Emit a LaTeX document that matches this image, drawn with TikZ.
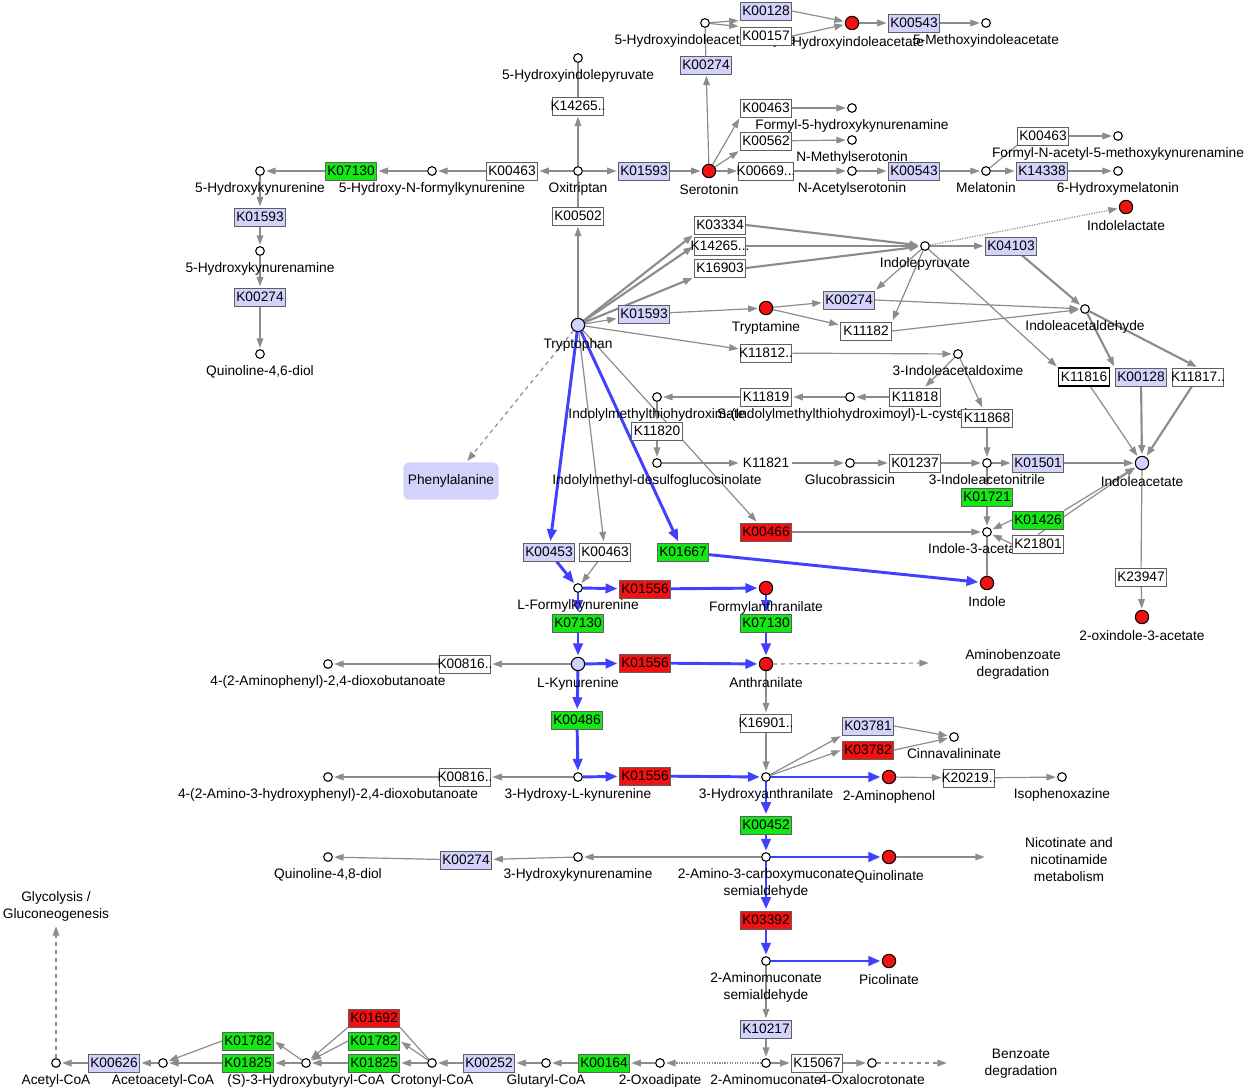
\documentclass[tikz,border=0pt]{standalone}
\usepackage{fontspec}
\setmainfont{Liberation Sans}
\usepackage{xcolor}
\usetikzlibrary{arrows.meta, shapes.misc}
\pgfdeclarelayer{fond}
\pgfsetlayers{fond,main}
\definecolor{gris}{RGB}{140,140,140}
\definecolor{bord}{RGB}{95,95,95}
\definecolor{bleu}{RGB}{64,64,255}
\definecolor{lavande}{RGB}{210,210,252}
\definecolor{vert}{RGB}{20,232,20}
\definecolor{rouge}{RGB}{242,16,16}
\tikzstyle{kbox} = [rectangle, draw = bord, fill = white, line width = 0.7pt, minimum width = 38.5pt, minimum height = 13.5pt, inner sep = 1pt]
\tikzstyle{kbleu} = [kbox, fill = lavande]
\tikzstyle{kvert} = [kbox, fill = vert]
\tikzstyle{krouge} = [kbox, fill = rouge]
\tikzstyle{cpd} = [circle, draw = black, fill = white, line width = 0.8pt, minimum size = 6.5pt, inner sep = 0pt]
\tikzstyle{cpdr} = [cpd, fill = rouge, minimum size = 10pt]
\tikzstyle{cpdl} = [cpd, fill = lavande, minimum size = 10pt]
\tikzstyle{lbl} = [inner sep = 0.5pt, align = center]
\tikzstyle{arr} = [-{Triangle[length = 7pt, width = 5pt]}, draw = gris, line width = 0.9pt, shorten > = 1pt]
\tikzstyle{tarr} = [arr, line width = 1.6pt]
\tikzstyle{ln} = [draw = gris, line width = 0.9pt]
\tikzstyle{barr} = [-{Triangle[length = 9pt, width = 7pt]}, draw = bleu, line width = 2.2pt, shorten > = 1pt]
\tikzstyle{darr} = [arr, dashed]
\tikzstyle{dotarr} = [arr, densely dotted]
\newcommand{\kk}[1]{\makebox[0pt]{#1}}

\begin{document}
\begin{tikzpicture}[x = 0.75pt, y = -0.75pt, font = \fontsize{10.3}{12.8}\selectfont, label distance = 4.3pt]
    % Cadre
    \useasboundingbox (0, 0) rectangle (1247, 1089);

    % Composes, haut
    \node[cpd, label = {[lbl]below:5-Hydroxyindoleacetaldehyde}] (hial) at (705, 23) {};
    \node[cpdr, label = {[lbl]below:5-Hydroxyindoleacetate}] (hiaa) at (852, 23) {};
    \node[cpd, label = {[lbl]below:5-Methoxyindoleacetate}] (miaa) at (986, 23) {};
    \node[cpd, label = {[lbl]below:5-Hydroxyindolepyruvate}] (hip) at (578, 58) {};
    \node[cpd, label = {[lbl]below:Formyl-5-hydroxykynurenamine}] (f5hk) at (852, 108) {};
    \node[cpd, label = {[lbl]below:N-Methylserotonin}] (nms) at (852, 140) {};
    \node[cpd, label = {[lbl]below:N-Acetylserotonin}] (nas) at (852, 171) {};
    \node[cpdr, label = {[lbl]below:Serotonin}] (ser) at (709, 171) {};
    \node[cpd, label = {[lbl]below:Oxitriptan}] (oxi) at (578, 171) {};
    \node[cpd, label = {[lbl]below:5-Hydroxy-N-formylkynurenine}] (hnfk) at (432, 171) {};
    \node[cpd, label = {[lbl]below:5-Hydroxykynurenine}] (hk) at (260, 171) {};
    \node[cpd, label = {[lbl]below:5-Hydroxykynurenamine}] (hka) at (260, 251) {};
    \node[cpd, label = {[lbl]below:Quinoline-4,6-diol}] (q46) at (260, 354) {};
    \node[cpd, label = {[lbl]below:Melatonin}] (mel) at (986, 171) {};
    \node[cpd, label = {[lbl]below:Formyl-N-acetyl-5-methoxykynurenamine}] (fnam) at (1118, 136) {};
    \node[cpd, label = {[lbl]below:6-Hydroxymelatonin}] (hmel) at (1118, 171) {};
    \node[cpdr, label = {[lbl]below:Indolelactate}] (ilac) at (1126, 207) {};
    \node[cpd, label = {[lbl]below:Indolepyruvate}] (ipa) at (925, 246) {};
    \node[cpdl, label = {[lbl]below:Tryptophan}] (trp) at (578, 325) {};
    \node[cpdr, label = {[lbl]below:Tryptamine}] (tam) at (766, 308) {};
    \node[cpd, label = {[lbl]below:Indoleacetaldehyde}] (iaald) at (1085, 309) {};
    \node[cpd, label = {[lbl]below:3-Indoleacetaldoxime}] (iaox) at (958, 354) {};
    \node[cpd, label = {[lbl]below:S-(Indolylmethylthiohydroximoyl)-L-cysteine}] (simc) at (850, 397) {};
    \node[cpd, label = {[lbl]below:Indolylmethylthiohydroximate}] (imth) at (657, 397) {};
    \node[cpd, label = {[lbl]below:Indolylmethyl-desulfoglucosinolate}] (imdg) at (657, 463) {};
    \node[cpd, label = {[lbl]below:Glucobrassicin}] (gbr) at (850, 463) {};
    \node[cpd, label = {[lbl]below:3-Indoleacetonitrile}] (ian) at (987, 463) {};
    \node[cpdl, label = {[lbl]below:Indoleacetate}] (iaa) at (1142, 463) {};
    \node[cpd, label = {[lbl]below:Indole-3-acetamide}] (iam) at (987, 532) {};
    \node[cpdr, label = {[lbl]below:Indole}] (ind) at (987, 583) {};
    \node[cpdr, label = {[lbl]below:2-oxindole-3-acetate}] (oxia) at (1142, 617) {};
    % Composes, kynurenine
    \node[cpd, label = {[lbl]below:L-Formylkynurenine}] (lfk) at (578, 588) {};
    \node[cpdr, label = {[lbl]below:Formylanthranilate}] (fant) at (766, 588) {};
    \node[cpdl, label = {[lbl]below:L-Kynurenine}] (lkyn) at (578, 664) {};
    \node[cpdr, label = {[lbl]below:Anthranilate}] (ant) at (766, 664) {};
    \node[cpd, label = {[lbl]below:4-(2-Aminophenyl)-2,4-dioxobutanoate}] (apdb) at (328, 664) {};
    \node[cpd, label = {[lbl]below:3-Hydroxy-L-kynurenine}] (hkyn) at (578, 777) {};
    \node[cpd, label = {[lbl]below:4-(2-Amino-3-hydroxyphenyl)-2,4-dioxobutanoate}] (ahdb) at (328, 777) {};
    \node[cpd, label = {[lbl]below:3-Hydroxyanthranilate}] (haa) at (766, 777) {};
    \node[cpd, label = {[lbl]below:Cinnavalininate}] (cinn) at (954, 737) {};
    \node[cpdr, label = {[lbl]below:2-Aminophenol}] (amph) at (889, 777) {};
    \node[cpd, label = {[lbl]below:Isophenoxazine}] (isop) at (1062, 777) {};
    \node[cpd, label = {[lbl]below:2-Amino-3-carboxymuconate\\semialdehyde}] (acms) at (766, 857) {};
    \node[cpdr, label = {[lbl]below:Quinolinate}] (quin) at (889, 857) {};
    \node[cpd, label = {[lbl]below:3-Hydroxykynurenamine}] (hkam) at (578, 857) {};
    \node[cpd, label = {[lbl]below:Quinoline-4,8-diol}] (q48) at (328, 857) {};
    \node[cpd, label = {[lbl]below:2-Aminomuconate\\semialdehyde}] (ams) at (766, 961) {};
    \node[cpdr, label = {[lbl]below:Picolinate}] (pic) at (889, 961) {};
    % Composes, bas
    \node[cpd, label = {[lbl]below:2-Aminomuconate}] (amu) at (766, 1063) {};
    \node[cpd, label = {[lbl]below:4-Oxalocrotonate}] (oxc) at (872, 1063) {};
    \node[cpd, label = {[lbl]below:2-Oxoadipate}] (oxad) at (660, 1063) {};
    \node[cpd, label = {[lbl]below:Glutaryl-CoA}] (glu) at (546, 1063) {};
    \node[cpd, label = {[lbl]below:Crotonyl-CoA}] (cro) at (432, 1063) {};
    \node[cpd, label = {[lbl]below:(S)-3-Hydroxybutyryl-CoA}] (hb) at (306, 1063) {};
    \node[cpd, label = {[lbl]below:Acetoacetyl-CoA}] (aac) at (163, 1063) {};
    \node[cpd, label = {[lbl]below:Acetyl-CoA}] (acc) at (56, 1063) {};

    % Cartes
    \node[rounded rectangle, rounded corners = 4pt, rectangle, fill = lavande, minimum width = 66pt, minimum height = 28pt] (phe) at (451, 481) {Phenylalanine};
    \node[align = center] (mamb) at (1013, 664) {Aminobenzoate\\degradation};
    \node[align = center] (mnic) at (1069, 860) {Nicotinate and\\nicotinamide\\metabolism};
    \node[align = center] (mben) at (1021, 1064) {Benzoate\\degradation};
    \node[align = center] (mgly) at (56, 906) {Glycolysis /\\Gluconeogenesis};
    \coordinate (ambE) at (930, 663);
    \coordinate (nicE) at (986, 857);
    \coordinate (benE) at (948, 1063);
    \coordinate (glyE) at (56, 925);

    % Enzymes, haut
    \node[kbleu] (e128a) at (766, 11) {K00128};
    \node[kbox] (e157) at (766, 36) {K00157};
    \node[kbleu] (e543a) at (914, 23) {K00543};
    \node[kbleu] (e274a) at (706, 65) {K00274};
    \node[kbox] (e265a) at (578, 106) {\kk{K14265..}};
    \node[kbox] (e463a) at (766, 108) {K00463};
    \node[kbox] (e562) at (766, 141) {K00562};
    \node[kbox, minimum width = 41pt] (e669) at (766, 171) {\kk{K00669...}};
    \node[kbleu] (e543b) at (914, 171) {K00543};
    \node[kbox] (e463c) at (1043, 136) {K00463};
    \node[kbleu] (e338) at (1042, 171) {K14338};
    \node[kbleu] (e1593a) at (644, 171) {K01593};
    \node[kbox] (e463b) at (512, 171) {K00463};
    \node[kvert] (e7130a) at (351, 171) {K07130};
    \node[kbleu] (e1593b) at (260, 217) {K01593};
    \node[kbleu] (e274b) at (260, 297) {K00274};
    \node[kbox] (e502) at (578, 216) {K00502};
    % Enzymes, tryptophane
    \node[kbox] (e334) at (720, 225) {K03334};
    \node[kbox] (e265b) at (720, 246) {\kk{K14265...}};
    \node[kbox] (e903) at (720, 268) {K16903};
    \node[kbleu] (e4103) at (1011, 246) {K04103};
    \node[kbleu] (e1593c) at (644, 314) {K01593};
    \node[kbleu] (e274c) at (849, 300) {K00274};
    \node[kbox] (e182) at (866, 331) {K11182};
    \node[kbox] (e812) at (766, 353) {\kk{K11812..}};
    \node[kbox, draw = black, line width = 1pt] (e816a) at (1084, 377) {K11816};
    \node[kbleu] (e128b) at (1141, 377) {K00128};
    \node[kbox] (e817) at (1198, 377) {\kk{K11817..}};
    \node[kbox] (e818) at (915, 397) {K11818};
    \node[kbox] (e819) at (766, 397) {K11819};
    \node[kbox] (e868) at (987, 418) {K11868};
    \node[kbox] (e820) at (657, 431) {K11820};
    \node[inner sep = 2pt] (e821) at (766, 463) {K11821};
    \node[kbox] (e237) at (915, 463) {K01237};
    \node[kbleu] (e501) at (1038, 463) {K01501};
    \node[kvert] (e721) at (987, 497) {K01721};
    \node[kvert] (e426) at (1038, 520) {K01426};
    \node[kbox] (e801) at (1038, 544) {K21801};
    \node[krouge] (e466) at (766, 532) {K00466};
    \node[kbox] (e947) at (1141, 577) {K23947};
    % Enzymes, kynurenine
    \node[kbleu] (e453) at (549, 552) {K00453};
    \node[kbox] (e463d) at (605, 552) {K00463};
    \node[kvert] (e667) at (683, 552) {K01667};
    \node[krouge] (e556a) at (645, 589) {K01556};
    \node[kvert] (e7130b) at (578, 623) {K07130};
    \node[kvert] (e7130c) at (766, 623) {K07130};
    \node[krouge] (e556b) at (645, 663) {K01556};
    \node[kbox] (e816b) at (465, 664) {\kk{K00816..}};
    \node[kvert] (e486) at (577, 720) {K00486};
    \node[kbox] (e816c) at (465, 777) {\kk{K00816..}};
    \node[krouge] (e556c) at (645, 776) {K01556};
    \node[kbox] (e6901) at (766, 723) {\kk{K16901..}};
    \node[kbleu] (e3781) at (868, 726) {K03781};
    \node[krouge] (e3782) at (868, 750) {K03782};
    \node[kbox] (e219) at (969, 778) {\kk{K20219..}};
    \node[kvert] (e452) at (766, 825) {K00452};
    \node[kbleu] (e274d) at (466, 860) {K00274};
    \node[krouge] (e392) at (766, 920) {K03392};
    \node[kbleu] (e217) at (766, 1029) {K10217};
    % Enzymes, bas
    \node[kbox] (e067) at (817, 1063) {K15067};
    \node[kvert] (e164) at (604, 1063) {K00164};
    \node[kbleu] (e252) at (489, 1063) {K00252};
    \node[krouge] (e692) at (374, 1018) {K01692};
    \node[kvert] (e782b) at (374, 1041) {K01782};
    \node[kvert] (e825b) at (374, 1063) {K01825};
    \node[kvert] (e782a) at (248, 1041) {K01782};
    \node[kvert] (e825a) at (248, 1063) {K01825};
    \node[kbleu] (e626) at (114, 1063) {K00626};

    \begin{pgfonlayer}{fond}
    % Serotonine et melatonine
    \draw[arr] (hial) -- (e128a.south west);
    \draw[arr] (hial) -- (e157.north west);
    \draw[arr] (e128a.east) -- (hiaa);
    \draw[arr] (e157.east) -- (hiaa);
    \draw[arr] (hiaa) -- (e543a);
    \draw[arr] (e543a) -- (miaa);
    \draw[arr] (ser) -- (e274a);
    \draw[ln] (e274a) -- (hial);
    \draw[arr] (oxi) -- (e265a);
    \draw[ln] (e265a) -- (hip);
    \draw[arr] (trp) -- (e502);
    \draw[ln] (e502) -- (oxi);
    \draw[arr] (oxi) -- (e463b);
    \draw[arr] (e463b) -- (hnfk);
    \draw[arr] (hnfk) -- (e7130a);
    \draw[arr] (e7130a) -- (hk);
    \draw[arr] (hk) -- (e1593b);
    \draw[arr] (e1593b) -- (hka);
    \draw[arr] (hka) -- (e274b);
    \draw[arr] (e274b) -- (q46);
    \draw[arr] (oxi) -- (e1593a);
    \draw[arr] (e1593a) -- (ser);
    \draw[arr] (ser) -- (e463a.south west);
    \draw[arr] (ser) -- (e562.south west);
    \draw[arr] (ser) -- (e669);
    \draw[arr] (e463a) -- (f5hk);
    \draw[arr] (e562) -- (nms);
    \draw[arr] (e669) -- (nas);
    \draw[arr] (nas) -- (e543b);
    \draw[arr] (e543b) -- (mel);
    \draw[arr] (mel) -- (e338);
    \draw[arr] (e338) -- (hmel);
    \draw[ln] (mel) -- (e463c.south west);
    \draw[arr] (e463c) -- (fnam);
    % Indole-3-acetate
    \draw[tarr] (trp) -- (e334.south west);
    \draw[tarr] (trp) -- (e265b.west);
    \draw[tarr] (trp) -- (e903.south west);
    \draw[tarr] (e334.east) -- (ipa);
    \draw[tarr] (e265b) -- (ipa);
    \draw[tarr] (e903.east) -- (ipa);
    \draw[arr] (trp) -- (e1593c);
    \draw[arr] (e1593c) -- (tam);
    \draw[arr] (tam) -- (e274c);
    \draw[arr] (tam) -- (e182);
    \draw[arr] (ipa) -- (e274c.north east);
    \draw[arr] (ipa) -- (e182.north east);
    \draw[arr] (e274c.east) -- (iaald);
    \draw[arr] (e182.east) -- (iaald);
    \draw[dotarr] (ipa) -- (ilac);
    \draw[arr] (ipa) -- (e4103);
    \draw[tarr] (e4103) -- (iaald);
    \draw[arr] (ipa) -- (e816a.north west);
    \draw[tarr] (iaald) -- (e128b.north west);
    \draw[tarr] (iaald) -- (e817.north);
    \draw[arr] (e816a) -- (iaa);
    \draw[tarr] (e128b) -- (iaa);
    \draw[tarr] (e817) -- (iaa);
    \draw[arr] (trp) -- (e812);
    \draw[arr] (e812) -- (iaox);
    \draw[arr] (iaox) -- (e818);
    \draw[arr] (e818) -- (simc);
    \draw[arr] (simc) -- (e819);
    \draw[arr] (e819) -- (imth);
    \draw[arr] (imth) -- (e820);
    \draw[arr] (e820) -- (imdg);
    \draw[arr] (imdg) -- (e821);
    \draw[arr] (e821) -- (gbr);
    \draw[arr] (gbr) -- (e237);
    \draw[arr] (e237) -- (ian);
    \draw[arr] (iaox) -- (e868);
    \draw[arr] (e868) -- (ian);
    \draw[arr] (ian) -- (e501);
    \draw[arr] (e501) -- (iaa);
    \draw[arr] (ian) -- (e721);
    \draw[arr] (e721) -- (iam);
    \draw[arr] (e426.west) -- (iam);
    \draw[arr] (e801.west) -- (iam);
    \draw[arr] (e426.north east) -- (iaa);
    \draw[arr] (e801.north) -- (iaa);
    \draw[ln] (iam) -- (ind);
    \draw[arr] (trp) -- (e466);
    \draw[arr] (e466) -- (iam);
    \draw[darr] (trp) -- (phe);
    \draw[ln] (iaa) -- (e947);
    \draw[arr] (e947) -- (oxia);
    % Voie de la kynurenine
    \draw[barr] (trp) -- (e453);
    \draw[arr] (trp) -- (e463d);
    \draw[barr] (trp) -- (e667);
    \draw[barr] (e667) -- (ind);
    \draw[barr] (e453) -- (lfk);
    \draw[arr] (e463d) -- (lfk);
    \draw[barr] (lfk) -- (e556a);
    \draw[barr] (e556a) -- (fant);
    \draw[barr] (lfk) -- (e7130b);
    \draw[barr] (e7130b) -- (lkyn);
    \draw[barr] (fant) -- (e7130c);
    \draw[barr] (e7130c) -- (ant);
    \draw[barr] (lkyn) -- (e556b);
    \draw[barr] (e556b) -- (ant);
    \draw[darr] (ant) -- (ambE);
    \draw[arr] (lkyn) -- (e816b);
    \draw[arr] (e816b) -- (apdb);
    \draw[barr] (lkyn) -- (e486);
    \draw[barr] (e486) -- (hkyn);
    \draw[arr] (hkyn) -- (e816c);
    \draw[arr] (e816c) -- (ahdb);
    \draw[barr] (hkyn) -- (e556c);
    \draw[barr] (e556c) -- (haa);
    \draw[arr] (ant) -- (e6901);
    \draw[arr] (e6901) -- (haa);
    \draw[arr] (haa) -- (e3781.south west);
    \draw[arr] (haa) -- (e3782.west);
    \draw[arr] (e3781.east) -- (cinn);
    \draw[arr] (e3782.east) -- (cinn);
    \draw[barr] (haa) -- (amph);
    \draw[arr] (amph) -- (e219);
    \draw[arr] (e219) -- (isop);
    \draw[barr] (haa) -- (e452);
    \draw[barr] (e452) -- (acms);
    \draw[barr] (acms) -- (quin);
    \draw[arr] (quin) -- (nicE);
    \draw[arr] (acms) -- (hkam);
    \draw[arr] (hkam) -- (e274d);
    \draw[arr] (e274d) -- (q48);
    \draw[barr] (acms) -- (e392);
    \draw[barr] (e392) -- (ams);
    \draw[barr] (ams) -- (pic);
    \draw[arr] (ams) -- (e217);
    \draw[arr] (e217) -- (amu);
    % Vers l'acetyl-CoA
    \draw[dotarr] (amu) -- (oxad);
    \draw[arr] (oxad) -- (e164);
    \draw[arr] (e164) -- (glu);
    \draw[arr] (glu) -- (e252);
    \draw[arr] (e252) -- (cro);
    \draw[arr] (amu) -- (e067);
    \draw[arr] (e067) -- (oxc);
    \draw[darr] (oxc) -- (benE);
    \draw[arr] (cro) -- (e825b);
    \draw[arr] (e825b) -- (hb);
    \draw[arr] (cro) -- (e782b.east);
    \draw[arr] (e782b.west) -- (hb);
    \draw[ln] (cro) -- (e692.south east);
    \draw[arr] (e692.south west) -- (hb);
    \draw[arr] (hb) -- (e825a);
    \draw[arr] (e825a) -- (aac);
    \draw[arr] (hb) -- (e782a.east);
    \draw[arr] (e782a.west) -- (aac);
    \draw[arr] (aac) -- (e626);
    \draw[arr] (e626) -- (acc);
    \draw[darr] (acc) -- (glyE);
    \end{pgfonlayer}
\end{tikzpicture}
\end{document}
